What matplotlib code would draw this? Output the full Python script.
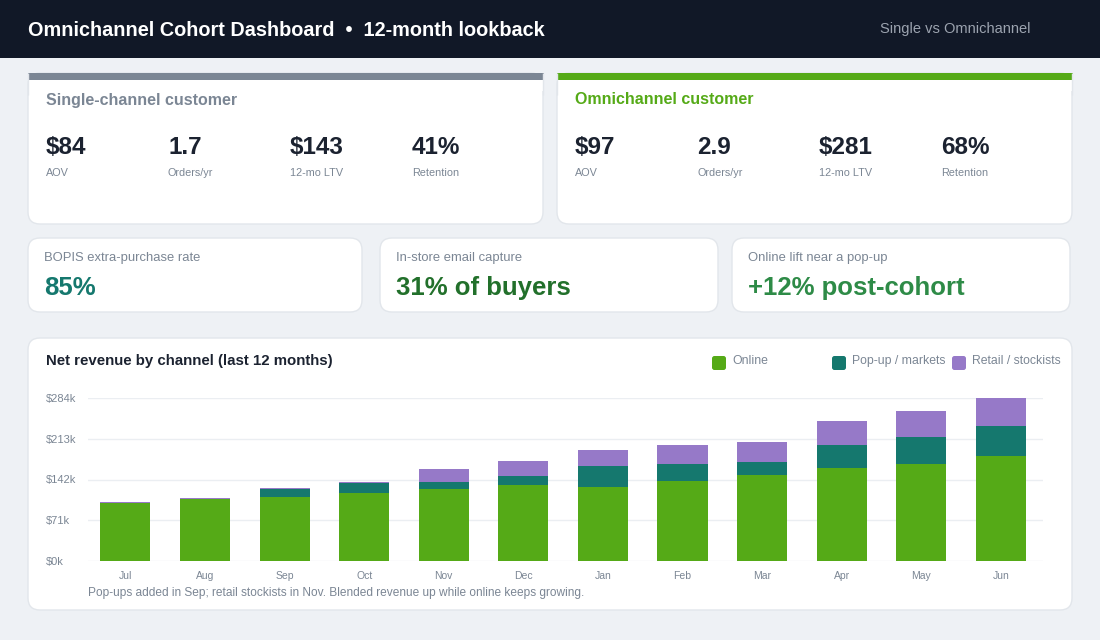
import matplotlib.pyplot as plt
import numpy as np
from matplotlib.patches import FancyBboxPatch, Rectangle

plt.rcParams['font.family'] = ['Liberation Sans', 'DejaVu Sans']

# Data
months = ['Jul', 'Aug', 'Sep', 'Oct', 'Nov', 'Dec', 'Jan', 'Feb', 'Mar', 'Apr', 'May', 'Jun']
online = [100.5, 107.5, 111, 118, 125, 132, 128.6, 139, 149.6, 161.9, 168.9, 182.9]
popup = [0, 0, 14, 17.5, 12.3, 15.8, 36.8, 29.8, 22.8, 40.3, 47.3, 52.6]
retail = [1.8, 2.3, 1.8, 1.8, 22.8, 26.3, 28, 33.3, 35, 42, 45.6, 48.5]
series_names = ['Online', 'Pop-up / markets', 'Retail / stockists']
y_ticks = [0, 71, 142, 213, 284]

single_kpis = [('$84', 'AOV'), ('1.7', 'Orders/yr'), ('$143', '12-mo LTV'), ('41%', 'Retention')]
omni_kpis = [('$97', 'AOV'), ('2.9', 'Orders/yr'), ('$281', '12-mo LTV'), ('68%', 'Retention')]
callouts = [('BOPIS extra-purchase rate', '85%'),
            ('In-store email capture', '31% of buyers'),
            ('Online lift near a pop-up', '+12% post-cohort')]

# Colours
C_HEAD = '#111827'
C_BG = '#eef1f5'
C_BORDER = '#e2e6eb'
C_GRAY = '#7b8694'
C_DARK = '#1b2230'
C_GREEN = '#55aa17'
C_TEAL = '#15786e'
C_PURPLE = '#9679c8'
callout_colors = ['#15786e', '#22702b', '#2e8b47']

fig = plt.figure(figsize=(11, 6.4), dpi=100, facecolor=C_BG)

# background canvas in pixel units
bg = fig.add_axes([0, 0, 1, 1], zorder=0)
bg.set_xlim(0, 1100)
bg.set_ylim(640, 0)
bg.axis('off')


def card(x0, y0, x1, y1, r=12):
    p = FancyBboxPatch((x0, y0), x1 - x0, y1 - y0,
                       boxstyle=f'round,pad=0,rounding_size={r}',
                       facecolor='white', edgecolor=C_BORDER, linewidth=1)
    bg.add_patch(p)


# header
bg.add_patch(Rectangle((0, 0), 1100, 58, facecolor=C_HEAD, linewidth=0))
bg.text(28, 30, 'Omnichannel Cohort Dashboard  \u2022  12-month lookback', color='white',
        fontsize=14.3, fontweight='bold', va='center', ha='left')
bg.text(880, 29, 'Single vs Omnichannel', color='#9ca3af', fontsize=10.5, va='center', ha='left')

# cohort cards
for x0, x1, title, col, kpis in [(28, 543, 'Single-channel customer', C_GRAY, single_kpis),
                                  (557, 1072, 'Omnichannel customer', C_GREEN, omni_kpis)]:
    card(x0, 73, x1, 224)
    bg.add_patch(Rectangle((x0, 73), x1 - x0, 18, facecolor='white', linewidth=0))
    bg.plot([x0, x0], [73, 95], color=C_BORDER, lw=1, solid_capstyle='butt')
    bg.plot([x1, x1], [73, 95], color=C_BORDER, lw=1, solid_capstyle='butt')
    bg.add_patch(Rectangle((x0 - 0.5, 73), x1 - x0 + 1, 7, facecolor=col, linewidth=0))
    bg.text(x0 + 18, 100, title, color=col, fontsize=11.5, fontweight='bold', va='center')
    for i, (val, lab) in enumerate(kpis):
        bg.text(x0 + 18 + i * 122, 147, val, color=C_DARK, fontsize=17.5, fontweight='bold', va='center')
        bg.text(x0 + 18 + i * 122, 172.5, lab, color=C_GRAY, fontsize=7.8, va='center')

# callout cards
for (x0, x1), (lab, val), col in zip([(28, 362), (380, 718), (732, 1070)], callouts, callout_colors):
    card(x0, 238, x1, 312)
    bg.text(x0 + 16, 258, lab, color=C_GRAY, fontsize=9.4, va='center')
    bg.text(x0 + 16, 288, val, color=col, fontsize=18.5, fontweight='bold', va='center')

# chart card
card(28, 338, 1072, 610)
bg.text(46, 361.5, 'Net revenue by channel (last 12 months)', color=C_DARK, fontsize=10.8,
        fontweight='bold', va='center')
for i, (name, col) in enumerate(zip(series_names, [C_GREEN, C_TEAL, C_PURPLE])):
    lx = 712 + i * 120
    bg.add_patch(FancyBboxPatch((lx, 356), 14, 14, boxstyle='round,pad=0,rounding_size=2.5',
                                facecolor=col, edgecolor='none'))
    bg.text(lx + 20, 361, name, color=C_GRAY, fontsize=8.8, va='center')
bg.text(88, 593, 'Pop-ups added in Sep; retail stockists in Nov. Blended revenue up while online keeps growing.',
        color=C_GRAY, fontsize=8.6, va='center')

# bar chart
ax = fig.add_axes([88 / 1100, 1 - 561 / 640, (1043 - 88) / 1100, (561 - 398) / 640], zorder=2)
ax.patch.set_alpha(0)
x = np.arange(len(months))
online_a = np.array(online)
popup_a = np.array(popup)
retail_a = np.array(retail)
w = 0.63
ax.bar(x, online_a, w, color=C_GREEN, zorder=3)
ax.bar(x, popup_a, w, bottom=online_a, color=C_TEAL, zorder=3)
ax.bar(x, retail_a, w, bottom=online_a + popup_a, color=C_PURPLE, zorder=3)

ax.set_xlim(-0.47, len(months) - 0.47)
ax.set_ylim(0, 284)
ax.set_yticks(y_ticks)
ax.set_yticklabels([f'${v}k' for v in y_ticks])
ax.set_xticks(x)
ax.set_xticklabels(months)
for lab in ax.get_yticklabels():
    lab.set_horizontalalignment('left')
ax.tick_params(axis='y', length=0, pad=30, labelsize=8, labelcolor=C_GRAY)
ax.tick_params(axis='x', length=0, pad=7, labelsize=7.5, labelcolor=C_GRAY)
ax.grid(axis='y', color='#ebeef2', linewidth=1, zorder=0)
for s in ax.spines.values():
    s.set_visible(False)

fig.savefig('out.png', dpi=100, facecolor=C_BG)
